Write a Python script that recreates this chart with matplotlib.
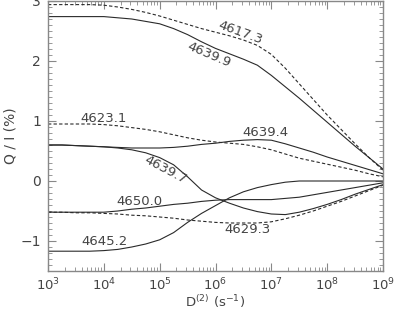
import numpy as np
import matplotlib
matplotlib.use("Agg")
import matplotlib.pyplot as plt
from matplotlib.ticker import MultipleLocator, LogLocator, NullFormatter

# log10 of D^(2) (s^-1)
logD = [3, 3.25, 3.5, 3.75, 4, 4.25, 4.5, 4.75, 5, 5.25, 5.5, 5.75, 6,
        6.25, 6.5, 6.75, 7, 7.25, 7.5, 7.75, 8, 8.25, 8.5, 8.75, 9]

s4617_3 = [2.94, 2.94, 2.94, 2.94, 2.93, 2.90, 2.86, 2.81, 2.75, 2.68, 2.61, 2.54, 2.48,
           2.42, 2.35, 2.26, 2.11, 1.88, 1.62, 1.36, 1.10, 0.86, 0.62, 0.39, 0.18]
s4639_9 = [2.74, 2.74, 2.74, 2.74, 2.74, 2.72, 2.70, 2.66, 2.62, 2.54, 2.44, 2.32, 2.21,
           2.12, 2.03, 1.93, 1.76, 1.57, 1.38, 1.18, 0.98, 0.78, 0.58, 0.39, 0.20]
s4623_1 = [0.95, 0.95, 0.95, 0.95, 0.94, 0.92, 0.89, 0.86, 0.82, 0.77, 0.72, 0.68, 0.65,
           0.63, 0.61, 0.57, 0.52, 0.45, 0.38, 0.33, 0.28, 0.23, 0.18, 0.12, 0.07]
s4639_4 = [0.60, 0.60, 0.59, 0.58, 0.57, 0.56, 0.55, 0.55, 0.55, 0.56, 0.58, 0.61, 0.63,
           0.66, 0.68, 0.69, 0.68, 0.62, 0.55, 0.48, 0.40, 0.33, 0.26, 0.19, 0.12]
s4639_7 = [0.60, 0.60, 0.59, 0.58, 0.57, 0.55, 0.52, 0.47, 0.39, 0.27, 0.07, -0.15, -0.28,
           -0.37, -0.45, -0.51, -0.55, -0.56, -0.52, -0.46, -0.39, -0.31, -0.22, -0.14, -0.06]
s4650_0 = [-0.52, -0.52, -0.52, -0.52, -0.52, -0.50, -0.47, -0.45, -0.42, -0.39, -0.37, -0.34, -0.32,
           -0.31, -0.31, -0.31, -0.31, -0.29, -0.27, -0.23, -0.19, -0.15, -0.11, -0.07, -0.03]
s4629_3 = [-0.52, -0.52, -0.53, -0.53, -0.54, -0.55, -0.57, -0.58, -0.60, -0.62, -0.65, -0.67, -0.69,
           -0.70, -0.70, -0.70, -0.68, -0.63, -0.57, -0.50, -0.42, -0.34, -0.25, -0.16, -0.07]
s4645_2 = [-1.17, -1.17, -1.17, -1.17, -1.16, -1.14, -1.10, -1.05, -0.98, -0.86, -0.69, -0.54, -0.41,
           -0.28, -0.18, -0.11, -0.06, -0.02, 0.0, 0.0, 0.0, 0.0, 0.0, 0.0, 0.0]

series = [
    ("4617.3", s4617_3, "dashed"),
    ("4639.9", s4639_9, "solid"),
    ("4623.1", s4623_1, "dashed"),
    ("4639.4", s4639_4, "solid"),
    ("4639.7", s4639_7, "solid"),
    ("4650.0", s4650_0, "solid"),
    ("4629.3", s4629_3, "dashed"),
    ("4645.2", s4645_2, "solid"),
]

# label placement: (name, logD, y, rotation)
labels = [
    ("4617.3", 6.44, 2.48, -20),
    ("4639.9", 5.89, 2.11, -23),
    ("4623.1", 4.0, 1.05, 0),
    ("4639.4", 6.89, 0.81, 0),
    ("4639.7", 5.10, 0.18, -28),
    ("4650.0", 4.64, -0.34, 0),
    ("4645.2", 4.01, -1.01, 0),
    ("4629.3", 6.58, -0.81, 0),
]

line_col = "#2a2a2a"
text_col = "#444444"
axis_col = "#888888"

fig = plt.figure(figsize=(3.96, 3.12), dpi=100)
ax = fig.add_axes([48/396, 1 - 271/312, (383-48)/396, 270/312])

D = 10.0 ** np.array(logD)
for name, vals, style in series:
    if style == "dashed":
        ax.plot(D, vals, color=line_col, lw=0.8, dashes=(3, 2))
    else:
        ax.plot(D, vals, color=line_col, lw=0.8)

for name, lx, ly, rot in labels:
    ax.text(10 ** lx, ly, name, ha="center", va="center", rotation=rot,
            fontsize=9.5, color=text_col, rotation_mode="anchor")

ax.set_xscale("log")
ax.set_xlim(1e3, 1e9)
ax.set_ylim(-1.5, 3.0)
ax.yaxis.set_major_locator(MultipleLocator(1))
ax.yaxis.set_minor_locator(MultipleLocator(0.1))
ax.xaxis.set_major_locator(LogLocator(base=10, numticks=20))
ax.xaxis.set_minor_locator(LogLocator(base=10, subs=np.arange(2, 10), numticks=20))
ax.xaxis.set_minor_formatter(NullFormatter())

ax.tick_params(which="both", direction="in", top=True, right=True,
               color=axis_col, labelcolor=text_col)
ax.tick_params(which="major", length=6, width=0.8)
ax.tick_params(which="minor", length=3, width=0.6)
ax.tick_params(axis="x", which="major", pad=4, labelsize=9.5)
ax.tick_params(axis="y", which="major", pad=5, labelsize=10)
for sp in ax.spines.values():
    sp.set_color(axis_col)
    sp.set_linewidth(1.0)

ax.set_xlabel(r"D$^{(2)}$ (s$^{-1}$)", fontsize=9.5, color=text_col, labelpad=0)
ax.set_ylabel("Q / I (%)", fontsize=10, color=text_col, labelpad=2)

fig.savefig("out.png", dpi=100)
